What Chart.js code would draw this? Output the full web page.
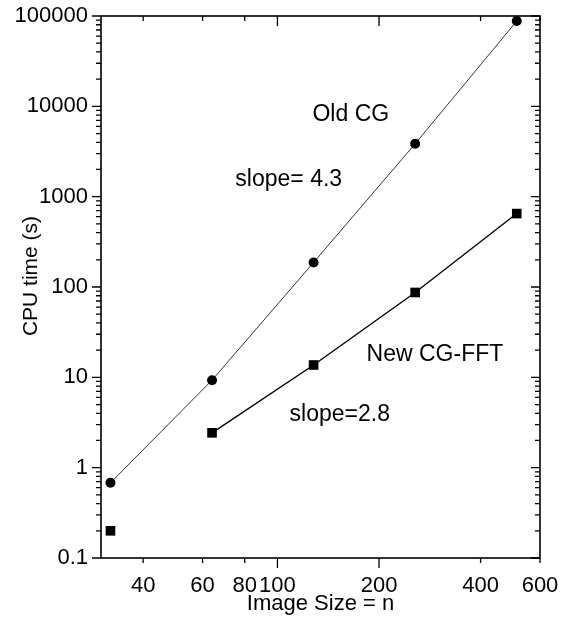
<!DOCTYPE html>
<html lang="en">
<head>
  <meta charset="UTF-8">
  <title>CPU time vs image size</title>
  <style>
    * { margin: 0; padding: 0; box-sizing: border-box; }
    body { width: 573px; height: 617px; background: #fff; overflow: hidden; }
    .wrap { width: 573px; height: 617px; }
  </style>
</head>
<body>
  <div class="wrap"><canvas id="cpuChart" width="573" height="617"></canvas></div>

  <script src="https://cdn.jsdelivr.net/npm/chart.js"></script>
  <script>
    // values
    const imageSizes = [32, 64, 128, 256, 512];
    const oldCgTime = [0.68, 9.3, 187, 3850, 88000];
    const newCgFftTime = [0.2, 2.43, 13.7, 87, 650];
    const xTickValues = [40, 60, 80, 100, 200, 400, 600];
    const xLongTicks = [100, 200];
    const yTickValues = [0.1, 1, 10, 100, 1000, 10000, 100000];

    // text labels placed in data coordinates
    const notes = [
      { text: 'Old CG', x: 165, y: 8000 },
      { text: 'slope= 4.3', x: 108, y: 1530 },
      { text: 'New CG-FFT', x: 293, y: 18 },
      { text: 'slope=2.8', x: 153, y: 3.85 }
    ];
    const yTitle = 'CPU time (s)';

    const FONT = '"Liberation Sans", Arial, Helvetica, sans-serif';

    // Frame, tick marks, y title and text notes
    const framePlugin = {
      id: 'frame',
      afterDraw(chart) {
        const { ctx, chartArea: a } = chart;
        const xs = chart.scales.x, ys = chart.scales.y;
        ctx.save();
        ctx.strokeStyle = '#000';
        ctx.lineWidth = 1.6;
        ctx.strokeRect(a.left, a.top, a.right - a.left, a.bottom - a.top);

        ctx.lineWidth = 1.3;
        ctx.beginPath();
        // y ticks, left outward and right inward
        for (let d = -1; d <= 5; d++) {
          for (let m = 1; m <= 9; m++) {
            const v = m * Math.pow(10, d);
            if (v > 100000 * 1.0001) continue;
            const py = ys.getPixelForValue(v);
            const len = m === 1 ? 9 : 5;
            ctx.moveTo(a.left - len, py); ctx.lineTo(a.left, py);
            ctx.moveTo(a.right, py); ctx.lineTo(a.right - len, py);
          }
        }
        // x ticks, bottom outward and top inward
        xTickValues.forEach(v => {
          const px = xs.getPixelForValue(v);
          const len = xLongTicks.includes(v) ? 10 : 5;
          ctx.moveTo(px, a.bottom); ctx.lineTo(px, a.bottom + len);
          ctx.moveTo(px, a.top); ctx.lineTo(px, a.top + len);
        });
        ctx.stroke();

        ctx.fillStyle = '#000';
        ctx.textAlign = 'center';
        ctx.textBaseline = 'middle';
        ctx.font = '23px ' + FONT;
        notes.forEach(n => {
          ctx.fillText(n.text, xs.getPixelForValue(n.x), ys.getPixelForValue(n.y));
        });

        // y axis title sits a bit above the middle of the axis
        ctx.font = '21px ' + FONT;
        ctx.translate(31, (a.top + a.bottom) / 2 - 11);
        ctx.rotate(-Math.PI / 2);
        ctx.fillText(yTitle, 0, 0);
        ctx.restore();
      }
    };

    new Chart(document.getElementById('cpuChart'), {
      type: 'line',
      data: {
        datasets: [
          {
            label: 'Old CG',
            data: imageSizes.map((n, i) => ({ x: n, y: oldCgTime[i] })),
            borderColor: '#000',
            borderWidth: 0.8,
            pointStyle: 'circle',
            pointRadius: 5,
            pointBackgroundColor: '#000',
            pointBorderWidth: 0,
            clip: false
          },
          {
            label: 'New CG-FFT',
            data: imageSizes.map((n, i) => ({ x: n, y: newCgFftTime[i] })),
            borderColor: '#000',
            borderWidth: 1.4,
            pointStyle: 'rect',
            pointRadius: 6.8,
            pointBackgroundColor: '#000',
            pointBorderWidth: 0,
            clip: false,
            // the smallest case is not joined to the rest
            segment: { borderColor: c => c.p0DataIndex === 0 ? 'rgba(0,0,0,0)' : '#000' }
          }
        ]
      },
      options: {
        responsive: false,
        animation: false,
        devicePixelRatio: 1,
        layout: { padding: { top: 16, right: 33, left: 0, bottom: 0 } },
        plugins: { legend: { display: false }, tooltip: { enabled: false } },
        scales: {
          x: {
            type: 'logarithmic',
            min: 30,
            max: 600,
            afterBuildTicks: s => { s.ticks = xTickValues.map(v => ({ value: v })); },
            afterFit: s => { s.height = 59; s.paddingRight = 0; s.paddingLeft = 0; },
            grid: { display: false, drawTicks: false },
            border: { display: false },
            ticks: {
              autoSkip: false,
              maxRotation: 0,
              padding: 15,
              color: '#000',
              font: { family: FONT, size: 22 },
              callback: v => String(v)
            },
            title: {
              display: true,
              text: 'Image Size = n',
              color: '#000',
              font: { family: FONT, size: 22 },
              padding: { top: 0, bottom: 0 }
            }
          },
          y: {
            type: 'logarithmic',
            min: 0.1,
            max: 100000,
            afterBuildTicks: s => { s.ticks = yTickValues.map(v => ({ value: v })); },
            afterFit: s => { s.width = 101; s.paddingTop = 0; s.paddingBottom = 0; },
            grid: { display: false, drawTicks: false },
            border: { display: false },
            ticks: {
              autoSkip: false,
              padding: 13,
              color: '#000',
              font: { family: FONT, size: 22 },
              callback: v => String(v)
            }
          }
        }
      },
      plugins: [framePlugin]
    });
  </script>
</body>
</html>
